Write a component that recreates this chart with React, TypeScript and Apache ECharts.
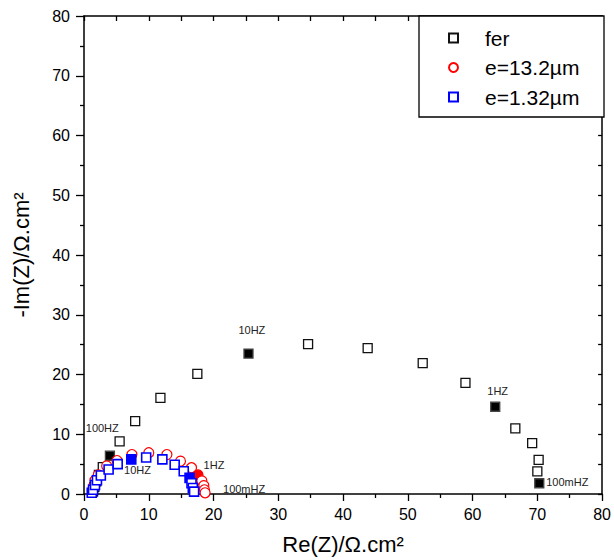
import React, { useEffect, useRef } from "react";
import * as echarts from "echarts";

const FONT = "Liberation Sans, Arial, Helvetica, sans-serif";

const xTicks = [0, 10, 20, 30, 40, 50, 60, 70, 80];
const yTicks = [0, 10, 20, 30, 40, 50, 60, 70, 80];

const seriesNames = ["fer", "e=13.2µm", "e=1.32µm"];

// [Re, -Im]
const ferData: number[][] = [
  [1.4, 0.4], [1.6, 1.2], [1.9, 2.1], [2.3, 3.2], [2.9, 4.5], [4.0, 6.4],
  [5.5, 8.8], [7.9, 12.2], [11.8, 16.1], [17.5, 20.1], [25.4, 23.5],
  [34.6, 25.1], [43.8, 24.4], [52.3, 21.9], [58.9, 18.6], [63.5, 14.6],
  [66.6, 11.0], [69.2, 8.5], [70.2, 5.7], [70.0, 3.8], [70.3, 1.8],
];
const ferFilled = [5, 10, 15, 20];

const redData: number[][] = [
  [1.3, 0.5], [1.5, 1.3], [1.7, 2.3], [2.2, 3.2], [3.5, 4.7], [5.1, 5.6],
  [7.4, 6.6], [10.0, 6.9], [12.8, 6.6], [14.9, 5.5], [16.6, 4.4],
  [17.6, 3.2], [18.2, 2.2], [18.5, 1.4], [18.6, 0.7], [18.7, 0.2],
];
const redFilled = [11];

const blueData: number[][] = [
  [1.2, 0.2], [1.4, 0.7], [1.7, 1.5], [2.0, 2.3], [2.6, 3.1], [3.8, 4.1],
  [5.2, 5.0], [7.3, 5.8], [9.6, 6.1], [12.1, 5.8], [14.0, 4.9],
  [15.4, 3.8], [16.3, 2.7], [16.6, 1.8], [16.8, 1.0], [17.0, 0.4],
];
const blueFilled = [7, 12];

// frequency annotations: [Re, -Im, text]
const annotations: [number, number, string][] = [
  [2.9, 10.9, "100HZ"],
  [26.0, 27.3, "10HZ"],
  [8.35, 3.85, "10HZ"],
  [63.95, 17.1, "1HZ"],
  [20.15, 4.7, "1HZ"],
  [24.8, 0.67, "100mHZ"],
  [74.7, 1.9, "100mHZ"],
];

function build(data: number[][], filled: number[], fillColor: string, fillBorder: string) {
  return data.map((d, i) =>
    filled.includes(i)
      ? { value: d, itemStyle: { color: fillColor, borderColor: fillBorder } }
      : { value: d }
  );
}

export default function App() {
  const ref = useRef<HTMLDivElement>(null);
  useEffect(() => {
    if (!ref.current) return;
    const chart = echarts.init(ref.current, undefined, { renderer: "svg" });
    const axisLine = { show: true, onZero: false, lineStyle: { color: "#000", width: 1.5 } };
    const baseX = {
      type: "value" as const,
      min: xTicks[0],
      max: xTicks[xTicks.length - 1],
      interval: 10,
      splitLine: { show: false },
      axisLine,
    };
    const baseY = {
      type: "value" as const,
      min: yTicks[0],
      max: yTicks[yTicks.length - 1],
      interval: 10,
      splitLine: { show: false },
      axisLine,
    };
    chart.setOption({
      animation: false,
      backgroundColor: "#fff",
      textStyle: { fontFamily: FONT },
      grid: { left: 84, right: 10, top: 16, bottom: 66 },
      xAxis: [
        {
          ...baseX,
          position: "bottom",
          axisTick: { show: true, inside: false, length: 7, lineStyle: { color: "#000", width: 1.3 } },
          minorTick: { show: true, splitNumber: 2, length: 4, lineStyle: { color: "#000", width: 1.3 } },
          axisLabel: { fontSize: 16, color: "#000", margin: 12, fontFamily: FONT },
          name: "Re(Z)/Ω.cm²",
          nameLocation: "middle",
          nameGap: 39,
          nameTextStyle: { fontSize: 22, color: "#000", fontFamily: FONT },
        },
        {
          ...baseX,
          position: "top",
          axisTick: { show: true, inside: true, length: 5, lineStyle: { color: "#000", width: 1.3 } },
          minorTick: { show: true, splitNumber: 2, length: 5, lineStyle: { color: "#000", width: 1.3 } },
          axisLabel: { show: false },
        },
      ],
      yAxis: [
        {
          ...baseY,
          position: "left",
          axisTick: { show: true, inside: false, length: 8, lineStyle: { color: "#000", width: 1.3 } },
          minorTick: { show: true, splitNumber: 2, length: 4, lineStyle: { color: "#000", width: 1.3 } },
          axisLabel: { fontSize: 16, color: "#000", margin: 14, fontFamily: FONT },
          name: "-Im(Z)/Ω.cm²",
          nameLocation: "middle",
          nameGap: 52,
          nameTextStyle: { fontSize: 22, color: "#000", fontFamily: FONT },
        },
        {
          ...baseY,
          position: "right",
          axisTick: { show: true, inside: true, length: 4, lineStyle: { color: "#000", width: 1.3 } },
          minorTick: { show: true, splitNumber: 2, length: 4, lineStyle: { color: "#000", width: 1.3 } },
          axisLabel: { show: false },
        },
      ],
      graphic: [
        {
          type: "rect",
          z: 3,
          shape: { x: 419, y: 16, width: 185, height: 101 },
          style: { fill: "#fff", stroke: "#000", lineWidth: 1.3 },
        },
      ],
      legend: {
        data: seriesNames,
        orient: "vertical",
        left: 448,
        top: 27,
        z: 5,
        padding: 0,
        itemWidth: 9,
        itemHeight: 9,
        itemGap: 7.5,
        textStyle: {
          fontSize: 21,
          lineHeight: 22,
          color: "#000",
          fontFamily: FONT,
          padding: [0, 0, 0, 22],
        },
      },
      series: [
        {
          name: seriesNames[0],
          type: "scatter",
          symbol: "rect",
          symbolSize: 9,
          itemStyle: { color: "#fff", borderColor: "#111", borderWidth: 1.3, opacity: 1 },
          data: build(ferData, ferFilled, "#000", "#444"),
          z: 2,
        },
        {
          name: seriesNames[1],
          type: "scatter",
          symbol: "circle",
          symbolSize: 10,
          itemStyle: { color: "#fff", borderColor: "#ff0000", borderWidth: 1.2, opacity: 1 },
          data: build(redData, redFilled, "#ff0000", "#ff0000"),
          z: 3,
        },
        {
          name: seriesNames[2],
          type: "scatter",
          symbol: "rect",
          symbolSize: 9,
          itemStyle: { color: "#fff", borderColor: "#0000ff", borderWidth: 1.6, opacity: 1 },
          data: build(blueData, blueFilled, "#0000ff", "#0000ff"),
          z: 4,
        },
        {
          name: "annotations",
          type: "scatter",
          symbolSize: 1,
          silent: true,
          itemStyle: { color: "rgba(0,0,0,0)", opacity: 0 },
          label: {
            show: true,
            position: [0, 0],
            align: "center",
            verticalAlign: "middle",
            formatter: "{b}",
            fontSize: 11,
            color: "#222222",
            textBorderWidth: 0,
            opacity: 1,
            fontFamily: FONT,
          },
          data: annotations.map((a) => ({ value: [a[0], a[1]], name: a[2] })),
          z: 6,
        },
      ],
    });
    return () => chart.dispose();
  }, []);
  return (
    <div
      ref={ref}
      style={{ position: "fixed", left: 0, top: 0, width: 614, height: 560 }}
    />
  );
}
